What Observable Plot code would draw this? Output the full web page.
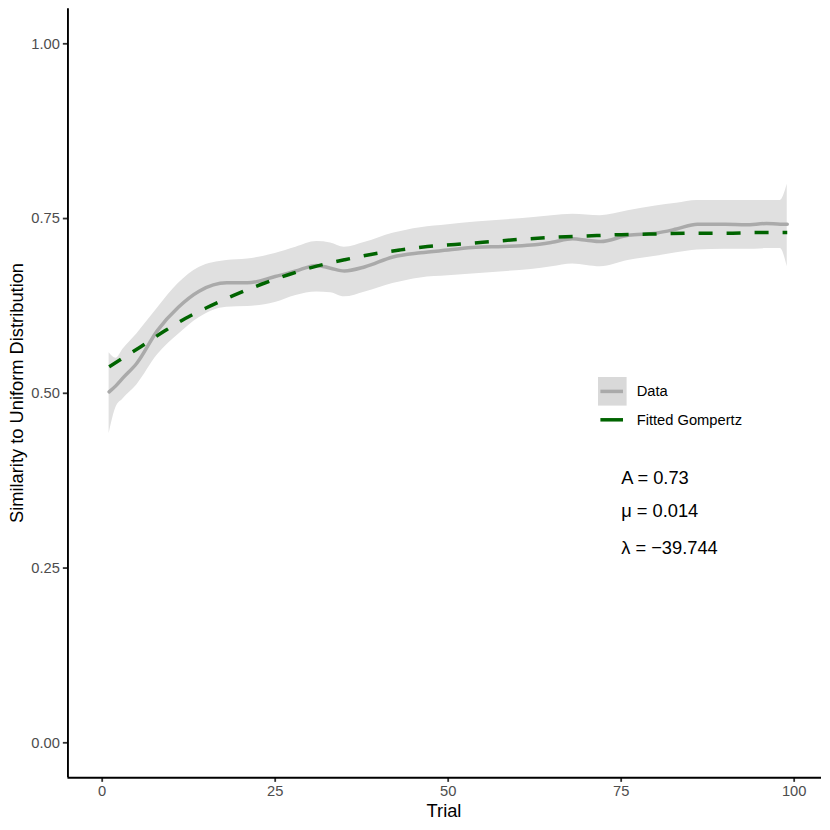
<!DOCTYPE html>
<html>
<head>
<meta charset="utf-8">
<script src="https://cdn.jsdelivr.net/npm/d3@7"></script>
<script src="https://cdn.jsdelivr.net/npm/@observablehq/plot@0.6"></script>
<style>
  html, body { margin: 0; padding: 0; background: #fff; }
  #wrap { position: relative; width: 830px; height: 830px; font-family: "Liberation Sans", Arial, Helvetica, sans-serif; }
  #wrap svg { display: block; }
  .ttl { position: absolute; font-size: 18.3px; line-height: 18.3px; color: #000; white-space: nowrap; text-align: center; }
  .leg { position: absolute; font-size: 14.7px; line-height: 14.7px; color: #000; white-space: nowrap; }
  svg [aria-label="x-axis tick label"] text, svg [aria-label="y-axis tick label"] text { fill: #4d4d4d; }
</style>
</head>
<body>
<div id="wrap"></div>
<script>
// ---- data ----
const trials    = [1, 2, 3, 5, 8, 11, 14, 18, 21, 25, 28, 31, 33, 35, 38, 42, 46, 50, 54, 58, 62, 65, 68, 70, 72, 76, 80, 83, 86, 90, 93, 96, 98, 99];
const dataMean  = [0.502, 0.511, 0.522, 0.543, 0.590, 0.623, 0.646, 0.658, 0.658, 0.667, 0.675, 0.683, 0.679, 0.675, 0.681, 0.695, 0.701, 0.705, 0.709, 0.710, 0.712, 0.716, 0.721, 0.719, 0.717, 0.726, 0.729, 0.735, 0.742, 0.742, 0.741, 0.743, 0.742, 0.742];
const dataLower = [0.442, 0.480, 0.492, 0.512, 0.555, 0.584, 0.608, 0.623, 0.624, 0.630, 0.640, 0.645, 0.644, 0.638, 0.645, 0.657, 0.665, 0.668, 0.671, 0.674, 0.677, 0.681, 0.685, 0.683, 0.681, 0.690, 0.696, 0.701, 0.705, 0.706, 0.706, 0.707, 0.707, 0.681];
const dataUpper = [0.558, 0.550, 0.563, 0.585, 0.622, 0.657, 0.680, 0.690, 0.692, 0.700, 0.709, 0.717, 0.715, 0.709, 0.716, 0.729, 0.737, 0.741, 0.745, 0.748, 0.751, 0.754, 0.756, 0.755, 0.754, 0.761, 0.768, 0.772, 0.776, 0.776, 0.776, 0.776, 0.776, 0.799];

const fitTrials = [1, 5, 9, 12, 15, 19, 23, 27, 31, 35, 39, 43, 47, 51, 55, 60, 65, 70, 75, 80, 85, 90, 95, 99];
const fitValues = [0.538, 0.563, 0.589, 0.607, 0.622, 0.640, 0.656, 0.670, 0.682, 0.691, 0.699, 0.705, 0.710, 0.713, 0.716, 0.720, 0.723, 0.725, 0.727, 0.728, 0.729, 0.729, 0.730, 0.730];

const xTicks = [0, 25, 50, 75, 100];
const yTicks = [0, 0.25, 0.5, 0.75, 1];

const annX = [75, 75, 75];
const annY = [0.378, 0.331, 0.278];
const annText = ["A = 0.73", "\u03bc = 0.014", "\u03bb = \u221239.744"];

const legendLabels = ["Data", "Fitted Gompertz"];

const xDomain = [-4.95, 103.95];
const yDomain = [-0.05, 1.05];

// ---- tables ----
const rows = trials.map((t, i) => ({t, m: dataMean[i], lo: dataLower[i], hi: dataUpper[i]}));
const fit = fitTrials.map((t, i) => ({t, v: fitValues[i]}));
const ann = annText.map((s, i) => ({x: annX[i], y: annY[i], s}));

const font = "Liberation Sans, Arial, Helvetica, sans-serif";

const chart = Plot.plot({
  width: 830,
  height: 830,
  marginLeft: 67.45,
  marginRight: 9,
  marginTop: 8.35,
  marginBottom: 52.75,
  style: {fontFamily: font, background: "#fff", overflow: "visible"},
  x: {domain: xDomain},
  y: {domain: yDomain},
  marks: [
    Plot.areaY(rows, {x: "t", y1: "lo", y2: "hi", fill: "#e0e0e0", curve: "monotone-x"}),
    Plot.lineY(rows, {x: "t", y: "m", stroke: "#aaaaaa", strokeWidth: 3.5, curve: "monotone-x"}),
    Plot.lineY(fit, {x: "t", y: "v", stroke: "#006400", strokeWidth: 3.5, strokeDasharray: "14,14", strokeLinecap: "butt", curve: "monotone-x"}),
    Plot.text(ann, {x: "x", y: "y", text: "s", textAnchor: "start", fontSize: 18.3, fill: "#000"}),
    Plot.axisX({ticks: xTicks, tickFormat: d3.format("d"), tickSize: 4.6, tickPadding: 3.5, fontSize: 14.7, label: null, stroke: "#333333", strokeWidth: 1.8}),
    Plot.axisY({ticks: yTicks, tickFormat: d3.format(".2f"), tickSize: 4.6, tickPadding: 3.5, fontSize: 14.7, label: null, stroke: "#333333", strokeWidth: 1.8}),
    Plot.ruleX([xDomain[0]], {stroke: "#000", strokeWidth: 1.9}),
    Plot.ruleY([yDomain[0]], {stroke: "#000", strokeWidth: 1.9})
  ]
});

const wrap = document.getElementById("wrap");
wrap.appendChild(chart);

// axis titles
const xt = document.createElement("div");
xt.className = "ttl";
xt.textContent = "Trial";
xt.style.left = "344px"; xt.style.width = "200px"; xt.style.top = "801.5px";
wrap.appendChild(xt);

const yt = document.createElement("div");
yt.className = "ttl";
yt.textContent = "Similarity to Uniform Distribution";
yt.style.left = "16.5px"; yt.style.top = "393px"; yt.style.width = "500px"; yt.style.height = "18.3px";
yt.style.transform = "translate(-50%, -50%) rotate(-90deg)";
wrap.appendChild(yt);

// legend
const ns = "http://www.w3.org/2000/svg";
const key = document.createElementNS(ns, "svg");
key.setAttribute("width", "30");
key.setAttribute("height", "60");
key.style.position = "absolute";
key.style.left = "598.3px";
key.style.top = "377.3px";
key.innerHTML =
  '<rect x="0" y="0" width="28.6" height="28.6" fill="#d9d9d9"/>' +
  '<line x1="2.4" x2="25" y1="14.4" y2="14.4" stroke="#aaaaaa" stroke-width="3.5"/>' +
  '<line x1="2.4" x2="25" y1="42.8" y2="42.8" stroke="#006400" stroke-width="3.5"/>';
wrap.appendChild(key);

legendLabels.forEach((lab, i) => {
  const d = document.createElement("div");
  d.className = "leg";
  d.textContent = lab;
  d.style.left = "636.7px";
  d.style.top = (391.7 + i * 28.4 - 7.35) + "px";
  wrap.appendChild(d);
});
</script>
</body>
</html>
